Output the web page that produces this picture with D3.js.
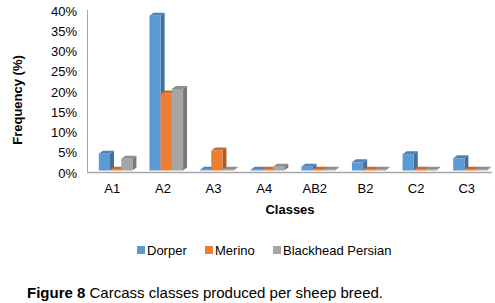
<!DOCTYPE html>
<html>
<head>
<meta charset="utf-8">
<script src="https://cdn.jsdelivr.net/npm/d3@7"></script>
<style>
  body { margin: 0; background: #fff; }
  text { font-family: "Liberation Sans", Arial, sans-serif; fill: #000; }
</style>
</head>
<body>
<svg id="chart"></svg>
<script>
// data (percent)
const classes = ["A1", "A2", "A3", "A4", "AB2", "B2", "C2", "C3"];
const dorper = [4.5, 38.6, 0.15, 0.2, 1.3, 2.4, 4.4, 3.4];
const merino = [0.5, 19.4, 5.3, 0.2, 0.15, 0.15, 0.15, 0.15];
const blackhead = [3.3, 20.5, 0.15, 1.3, 0.15, 0.15, 0.15, 0.15];
const seriesNames = ["Dorper", "Merino", "Blackhead Persian"];
const yTicks = [0, 5, 10, 15, 20, 25, 30, 35, 40];

const colors = ["#5b9bd5", "#ed7d31", "#a5a5a5"];
const series = [dorper, merino, blackhead];

const width = 495, height = 303;
const svg = d3.select("#chart").attr("width", width).attr("height", height);

// scales
const x = d3.scaleBand().domain(classes).range([87, 492]).padding(0);
const y = d3.scaleLinear().domain([0, 40]).range([172, 10]);

const barW = 11.2, depthX = 4, depthY = 3;

// axes lines
svg.append("line")
    .attr("x1", 87.5).attr("x2", 87.5)
    .attr("y1", 10).attr("y2", 172)
    .attr("stroke", "#a6a6a6");
svg.append("line")
    .attr("x1", 87).attr("x2", 492)
    .attr("y1", 172.5).attr("y2", 172.5)
    .attr("stroke", "#a6a6a6").attr("stroke-width", 1.5);

// y tick labels
svg.selectAll(".ytick")
    .data(yTicks)
    .join("text")
    .attr("class", "ytick")
    .attr("x", 77)
    .attr("y", d => y(d) + 1)
    .attr("dy", "0.35em")
    .attr("text-anchor", "end")
    .style("font-size", "13px")
    .text(d => d + "%");

// x labels
svg.selectAll(".xtick")
    .data(classes)
    .join("text")
    .attr("class", "xtick")
    .attr("x", d => x(d) + x.bandwidth() / 2)
    .attr("y", 193)
    .attr("text-anchor", "middle")
    .style("font-size", "13px")
    .text(d => d);

// bars with a fake 3D look
const bars = [];
classes.forEach((c, i) => {
    series.forEach((s, j) => {
        bars.push({cls: c, s: j, v: s[i]});
    });
});

const base = y(0) - 1.5;
const g = svg.append("g");
const bar = g.selectAll("g.bar")
    .data(bars)
    .join("g")
    .attr("class", "bar");

function x0(d) { return x(d.cls) + x.bandwidth() / 2 - 13.5 + d.s * barW; }

// side face
bar.append("path")
    .attr("d", d => {
        const xr = x0(d) + barW, top = Math.min(y(d.v), base - 0.8);
        return `M${xr},${top}L${xr + depthX},${top - depthY}L${xr + depthX},${base - depthY}L${xr},${base}Z`;
    })
    .attr("fill", d => d3.color(colors[d.s]).darker(0.9));

// top face
bar.append("path")
    .attr("d", d => {
        const xl = x0(d), top = Math.min(y(d.v), base - 0.8);
        return `M${xl},${top}L${xl + depthX},${top - depthY}L${xl + barW + depthX},${top - depthY}L${xl + barW},${top}Z`;
    })
    .attr("fill", d => d3.color(colors[d.s]).darker(0.45));

// front face
bar.append("rect")
    .attr("x", d => x0(d))
    .attr("y", d => Math.min(y(d.v), base - 0.8))
    .attr("width", barW)
    .attr("height", d => base - Math.min(y(d.v), base - 0.8))
    .attr("fill", d => colors[d.s]);

// axis titles
svg.append("text")
    .attr("transform", "rotate(-90)")
    .attr("x", -100)
    .attr("y", 22)
    .attr("text-anchor", "middle")
    .style("font-size", "13px")
    .style("font-weight", "700")
    .text("Frequency (%)");

svg.append("text")
    .attr("x", 290)
    .attr("y", 214)
    .attr("text-anchor", "middle")
    .style("font-size", "13px")
    .style("font-weight", "700")
    .text("Classes");

// legend
const legendX = [137, 205, 273];
const legend = svg.selectAll(".legend")
    .data(seriesNames)
    .join("g")
    .attr("class", "legend")
    .attr("transform", (d, i) => `translate(${legendX[i]},250)`);
legend.append("rect")
    .attr("x", 0).attr("y", -4)
    .attr("width", 8).attr("height", 8)
    .attr("fill", (d, i) => colors[i]);
legend.append("text")
    .attr("x", 10)
    .attr("y", 0)
    .attr("dy", "0.35em")
    .style("font-size", "13px")
    .text(d => d);

// caption
const cap = svg.append("text")
    .attr("x", 27)
    .attr("y", 298)
    .style("font-size", "15px");
cap.append("tspan").style("font-weight", "700").text("Figure 8");
cap.append("tspan").text(" Carcass classes produced per sheep breed.");
</script>
</body>
</html>
